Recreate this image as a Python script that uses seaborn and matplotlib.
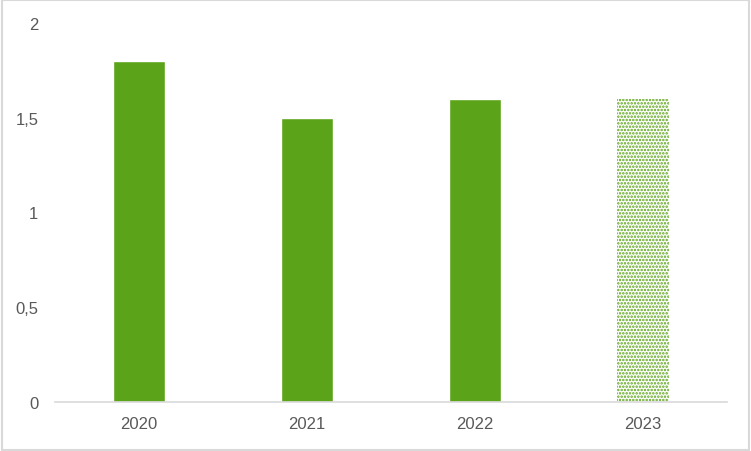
import matplotlib
matplotlib.use('Agg')
import matplotlib.pyplot as plt
import matplotlib.ticker as mticker
import pandas as pd
import seaborn as sns

years = ['2020', '2021', '2022', '2023']
values = [1.8, 1.5, 1.6, 1.6]

green = '#5BA318'
grey = '#595959'

sns.set_style('white')
plt.rcParams['font.family'] = ['Liberation Sans', 'DejaVu Sans']
plt.rcParams['hatch.linewidth'] = 1.2

df = pd.DataFrame({'year': years, 'value': values})

fig = plt.figure(figsize=(7.51, 4.52), dpi=100)
ax = fig.add_axes([55 / 751, 1 - 403 / 452, 672 / 751, 379 / 452])
sns.barplot(df, x='year', y='value', color=green, saturation=1, width=0.315, ax=ax)

# last year is an estimate -> dotted fill
last = ax.patches[-1]
last.set_facecolor('white')
last.set_edgecolor(green)
last.set_linewidth(0)
last.set_hatch('.....')

ax.set_ylim(0, 2)
ax.set_xlim(-0.5, 3.5)
ax.yaxis.set_major_locator(mticker.MultipleLocator(0.5))
ax.yaxis.set_major_formatter(mticker.FuncFormatter(lambda v, p: ('%g' % v).replace('.', ',')))
ax.set_xlabel('')
ax.set_ylabel('')
for s in ['top', 'right', 'left']:
    ax.spines[s].set_visible(False)
ax.spines['bottom'].set_color('#D9D9D9')
ax.spines['bottom'].set_linewidth(1.2)
ax.tick_params(axis='both', length=0, colors=grey, labelsize=12)
ax.tick_params(axis='y', pad=12)
ax.tick_params(axis='x', pad=10)

# chart border
fig.patches.append(plt.Rectangle((0.002, 0.003), 0.996, 0.994, transform=fig.transFigure,
                                 fill=False, edgecolor='#D9D9D9', linewidth=1.5))

fig.savefig('out.png', dpi=100)
